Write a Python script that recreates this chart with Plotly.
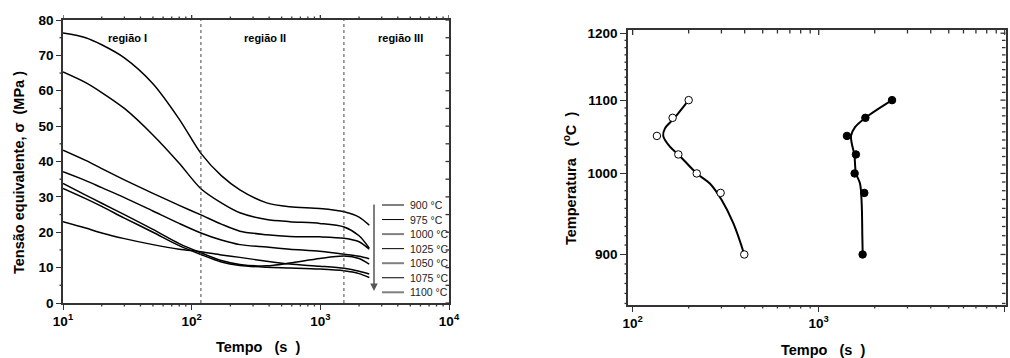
import plotly.graph_objects as go

# ---------------- data: left panel (stress relaxation) ----------------
time_s = [10, 15, 20, 30, 50, 80, 118, 170, 237, 383, 580, 990, 1530, 2000, 2400]
legend_labels = ["900 °C", "975 °C", "1000 °C", "1025 °C", "1050 °C", "1075 °C", "1100 °C"]
s_900 = [76.3, 75.0, 73.0, 69.3, 62.0, 52.0, 42.3, 36.0, 32.0, 28.3, 27.2, 26.7, 25.8, 24.3, 22.0]
s_975 = [65.3, 62.3, 59.5, 55.0, 47.5, 39.5, 32.3, 28.3, 25.5, 23.6, 23.0, 22.5, 21.5, 19.0, 15.5]
s_1000 = [43.2, 40.3, 38.0, 34.8, 31.0, 27.6, 24.9, 22.3, 20.3, 19.3, 18.8, 18.7, 18.3, 17.3, 15.2]
s_1025 = [37.1, 34.6, 32.6, 29.8, 26.0, 22.5, 19.8, 17.8, 16.5, 15.8, 15.2, 14.6, 13.8, 13.2, 12.5]
s_1050 = [33.8, 30.5, 28.2, 25.0, 20.8, 16.8, 14.2, 12.0, 10.9, 10.5, 11.3, 12.6, 13.3, 12.6, 11.0]
s_1075 = [32.4, 29.5, 27.3, 24.0, 20.0, 16.2, 13.7, 11.6, 10.6, 10.1, 9.9, 9.6, 9.1, 8.3, 7.2]
s_1100 = [23.0, 21.2, 19.8, 18.2, 16.5, 15.2, 14.5, 13.6, 12.9, 11.8, 11.0, 10.4, 9.8, 9.0, 8.2]
stress_series = [s_900, s_975, s_1000, s_1025, s_1050, s_1075, s_1100]
region_bounds = [118, 1525]
region_labels = ["região I", "região II", "região III"]

# ---------------- data: right panel (temperature vs time) ----------------
T_levels = [900, 975, 1000, 1025, 1050, 1075, 1100]
t_open = [398, 297, 221, 176, 135, 164, 200]
t_filled = [1722, 1758, 1560, 1585, 1419, 1782, 2478]
fit_open_T = [900, 937, 966, 987, 1000, 1025, 1035, 1050, 1060, 1075, 1100]
fit_open_t = [398, 348, 301, 260, 221, 176, 159, 146, 149, 168, 200]
fit_filled_T = [900, 921, 962, 987, 1000, 1025, 1040, 1050, 1062, 1075, 1100]
fit_filled_t = [1724, 1716, 1702, 1667, 1587, 1554, 1505, 1492, 1568, 1782, 2478]

# tick values
x1_major = [10, 100, 1000, 10000]
x1_minor = [m * 10 ** e for e in (1, 2, 3) for m in range(2, 10)]
y1_major = list(range(0, 81, 10))
y1_minor = list(range(5, 80, 10))
x2_major = [100, 1000, 10000]
x2_minor = [m * 10 ** e for e in (2, 3) for m in range(2, 10)]
T_major = [900, 1000, 1100, 1200]
T_minor = [900 + i * 100 / 9 for i in range(-5, 28) if i % 9 != 0]

FONT = "Liberation Sans, Arial, sans-serif"
AX = "#333333"
W, H = 1010, 358
X1_RANGE = [1, 4]
X2_RANGE = [1.975, 4.004]
Y2_RANGE = [2.9257, 3.0810]

fig = go.Figure()

for vals in stress_series:
    fig.add_trace(go.Scatter(x=time_s, y=vals, mode="lines",
                             line=dict(color="black", width=1.5, shape="spline", smoothing=0.8),
                             showlegend=False, hoverinfo="skip", xaxis="x", yaxis="y"))
for b in region_bounds:
    fig.add_trace(go.Scatter(x=[b, b], y=[0, 80], mode="lines",
                             line=dict(color="#444", width=1, dash="dot"),
                             showlegend=False, hoverinfo="skip", xaxis="x", yaxis="y"))

fig.add_trace(go.Scatter(x=fit_open_t, y=fit_open_T, mode="lines",
                         line=dict(color="black", width=2, shape="spline", smoothing=1.0),
                         showlegend=False, hoverinfo="skip", xaxis="x2", yaxis="y2"))
fig.add_trace(go.Scatter(x=fit_filled_t, y=fit_filled_T, mode="lines",
                         line=dict(color="black", width=2, shape="spline", smoothing=1.0),
                         showlegend=False, hoverinfo="skip", xaxis="x2", yaxis="y2"))
fig.add_trace(go.Scatter(x=t_open, y=T_levels, mode="markers",
                         marker=dict(symbol="circle", size=7.5, color="white",
                                     line=dict(color="black", width=1)),
                         showlegend=False, xaxis="x2", yaxis="y2"))
fig.add_trace(go.Scatter(x=t_filled, y=T_levels, mode="markers",
                         marker=dict(symbol="circle", size=7.5, color="black",
                                     line=dict(color="black", width=1)),
                         showlegend=False, xaxis="x2", yaxis="y2"))


def dom_x(a, b):
    return [a / W, b / W]


def dom_y(top, bottom):
    return [(H - bottom) / H, (H - top) / H]


tickfont = dict(family=FONT, size=13.5, color="black", weight="bold")
common = dict(showgrid=False, zeroline=False, automargin=False, tickfont=tickfont,
              tickwidth=1.3, tickcolor=AX, showline=True, linecolor=AX, linewidth=1.5,
              mirror=True, ticks="outside")

fig.update_layout(
    width=W, height=H, margin=dict(l=0, r=0, t=0, b=0, autoexpand=False),
    paper_bgcolor="white", plot_bgcolor="white",
    xaxis=dict(type="log", range=X1_RANGE, domain=dom_x(63, 449), anchor="y",
               tickvals=x1_major,
               ticktext=["10<sup>1</sup>", "10<sup>2</sup>", "10<sup>3</sup>", "10<sup>4</sup>"],
               ticklen=5, **common),
    yaxis=dict(range=[0, 80], domain=dom_y(20, 303), anchor="x",
               tickvals=y1_major, ticklen=5, **common),
    xaxis2=dict(type="log", range=X2_RANGE, domain=dom_x(628, 1005.5), anchor="y2",
                tickvals=x2_major,
                ticktext=["10<sup>2</sup>", "10<sup>3</sup>", "10<sup>4</sup>"],
                ticklen=5, **common),
    yaxis2=dict(type="log", range=Y2_RANGE, domain=dom_y(30, 305), anchor="x2",
                tickvals=T_major, ticklen=6, **common),
)

shapes = []


def xticks(vals, xref, yref, anchor, length):
    # anchor 0 = bottom edge, 1 = top edge; length in px, positive = upward
    for v in vals:
        shapes.append(dict(type="line", xref=xref, yref=yref + " domain", x0=v, x1=v,
                           ysizemode="pixel", yanchor=anchor, y0=0, y1=length,
                           line=dict(color=AX, width=1.3)))


def yticks(vals, xref, yref, anchor, length):
    # anchor 0 = left edge, 1 = right edge; length in px, positive = rightward
    for v in vals:
        shapes.append(dict(type="line", xref=xref + " domain", yref=yref, y0=v, y1=v,
                           xsizemode="pixel", xanchor=anchor, x0=0, x1=length,
                           line=dict(color=AX, width=1.3)))


xticks(x1_minor, "x", "y", 0, -3.5)
xticks(x1_major, "x", "y", 1, 5)
xticks(x1_minor, "x", "y", 1, 3.5)
yticks(y1_minor, "x", "y", 0, -3.5)
yticks(y1_major + y1_minor, "x", "y", 1, -3.5)
xticks(x2_minor, "x2", "y2", 0, -3.5)
xticks(x2_major, "x2", "y2", 1, -5)
xticks(x2_minor, "x2", "y2", 1, -3.5)
yticks(T_minor, "x2", "y2", 0, -3.5)
yticks(T_major, "x2", "y2", 1, -5)
yticks(T_minor, "x2", "y2", 1, -3.5)

ann = []
title_font = dict(family=FONT, size=14.5, color="black", weight="bold")
ann.append(dict(text="Tempo   (s  )", x=258 / W, y=1 - 347 / H, xref="paper", yref="paper",
                showarrow=False, font=title_font, xanchor="center", yanchor="middle"))
ann.append(dict(text="Tempo   (s  )", x=823 / W, y=1 - 350 / H, xref="paper", yref="paper",
                showarrow=False, font=title_font, xanchor="center", yanchor="middle"))
ann.append(dict(text="Tensão equivalente, σ  (MPa )", x=19 / W, y=1 - 173 / H, xref="paper", yref="paper",
                showarrow=False, font=title_font, textangle=-90, xanchor="center", yanchor="middle"))
ann.append(dict(text="Temperatura   (<sup>o</sup>C  )", x=570 / W, y=1 - 179 / H, xref="paper", yref="paper",
                showarrow=False, font=title_font, textangle=-90, xanchor="center", yanchor="middle"))
for lbl, px in zip(region_labels, [127.5, 265, 400]):
    ann.append(dict(text=lbl, x=px / W, y=1 - 38 / H, xref="paper", yref="paper", showarrow=False,
                    font=dict(family=FONT, size=11, color="black", weight="bold"),
                    xanchor="center", yanchor="middle"))
for i, lbl in enumerate(legend_labels):
    py = 205 + i * 14.55
    col, wd = ("#808080", 2) if i % 2 == 0 else ("black", 1)
    shapes.append(dict(type="line", xref="paper", yref="paper", x0=382 / W, x1=404 / W,
                       y0=1 - py / H, y1=1 - py / H, line=dict(color=col, width=wd)))
    ann.append(dict(text=lbl, x=408 / W, y=1 - py / H, xref="paper", yref="paper", showarrow=False,
                    font=dict(family=FONT, size=10.5, color="#222"), xanchor="left", yanchor="middle"))
ann.append(dict(text="", x=374 / W, y=1 - 291 / H, xref="paper", yref="paper", showarrow=True,
                ax=0, ay=-88, arrowhead=2, arrowsize=1, arrowwidth=1.5, arrowcolor="#555"))
fig.update_layout(annotations=ann, shapes=shapes)

fig.write_html("out.html", config={"displayModeBar": False},
               post_script="document.body.style.margin='0px';document.body.style.overflow='hidden';")
